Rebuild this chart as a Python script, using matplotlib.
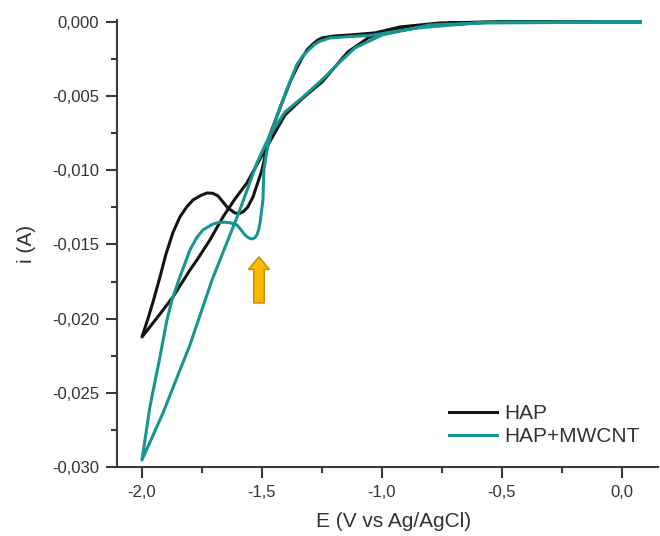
import matplotlib
matplotlib.use("Agg")
import matplotlib.pyplot as plt
from matplotlib.ticker import FuncFormatter, MultipleLocator

plt.rcParams['font.family'] = ['Liberation Sans', 'DejaVu Sans']

# cyclic voltammograms, forward scan (towards -2 V) then reverse scan
hap_fwd_E = [0.075, -0.3, -0.6, -0.76, -0.925, -1.029, -1.133, -1.2, -1.25, -1.27, -1.292, -1.313,
             -1.333, -1.358, -1.383, -1.425, -1.467, -1.5, -1.5375, -1.56, -1.579, -1.595,
             -1.6125, -1.642, -1.683, -1.705, -1.729, -1.755, -1.7875, -1.815, -1.842, -1.871,
             -1.9, -1.925, -1.954, -1.975, -2.0]
hap_fwd_i = [0.0, 0.0, -0.00002, -0.00007, -0.00034, -0.00074, -0.00088, -0.00095, -0.00108,
             -0.00125, -0.00155, -0.0019, -0.00243, -0.0032, -0.00405, -0.0058, -0.00762,
             -0.00998, -0.0118, -0.0125, -0.0128, -0.01292, -0.01288, -0.01254, -0.01173,
             -0.01155, -0.01153, -0.0117, -0.012, -0.0125, -0.01315, -0.0142, -0.01565,
             -0.01719, -0.01888, -0.02, -0.02124]
hap_rev_E = [-2.0, -1.925, -1.871, -1.8, -1.771, -1.717, -1.6625, -1.6125, -1.5625, -1.517,
             -1.475, -1.404, -1.329, -1.25, -1.142, -1.058, -1.008, -0.842, -0.704, -0.508, 0.075]
hap_rev_i = [-0.02124, -0.01969, -0.01854, -0.01672, -0.01605, -0.0147, -0.01315, -0.01193,
             -0.01085, -0.0095, -0.00829, -0.00627, -0.00512, -0.00405, -0.00202, -0.00108,
             -0.00074, -0.00027, -0.00007, 0.0, 0.0]

cnt_fwd_E = [0.075, -0.5, -0.6, -0.7, -0.85, -0.95, -1.04, -1.15, -1.217, -1.258, -1.279, -1.3,
             -1.333, -1.355, -1.375, -1.4, -1.425, -1.458, -1.479, -1.492, -1.496, -1.508,
             -1.514, -1.521, -1.53, -1.542, -1.556, -1.571, -1.588, -1.604, -1.63, -1.654,
             -1.68, -1.704, -1.746, -1.772, -1.8, -1.842, -1.875, -1.896, -1.925, -1.967, -2.0]
cnt_fwd_i = [0.0, 0.0, -0.00005, -0.0002, -0.0004, -0.00065, -0.0009, -0.001, -0.00108,
             -0.0013, -0.0015, -0.0018, -0.00235, -0.0029, -0.0037, -0.0047, -0.0058, -0.0073,
             -0.0086, -0.01, -0.012, -0.01355, -0.0140, -0.01436, -0.01455, -0.01463, -0.01455,
             -0.01436, -0.0140, -0.01369, -0.01355, -0.0135, -0.01352, -0.01362, -0.01402,
             -0.01455, -0.01537, -0.01719, -0.01874, -0.02009, -0.02258, -0.02596, -0.02953]
cnt_rev_E = [-2.0, -1.9125, -1.8, -1.708, -1.675, -1.592, -1.521, -1.496, -1.467, -1.404,
             -1.329, -1.25, -1.175, -1.1125, -1.0, -0.8, -0.5625, 0.075]
cnt_rev_i = [-0.02953, -0.02636, -0.02177, -0.01739, -0.01605, -0.01267, -0.0095, -0.00863,
             -0.00762, -0.00607, -0.00506, -0.0039, -0.0027, -0.00175, -0.00088, -0.0002,
             -0.00007, 0.0]

peak_E = -1.5125
arrow_tip_i = -0.01584
arrow_tail_i = -0.01894

black = '#141414'
teal = '#17968F'
text_col = '#333333'

fig = plt.figure(figsize=(6.6, 5.36), dpi=100)
ax = fig.add_axes([117 / 660, 69 / 536, 541 / 660, 447 / 536])

ax.plot(hap_fwd_E + hap_rev_E, hap_fwd_i + hap_rev_i, color=black, lw=2.2, label='HAP')
ax.plot(cnt_fwd_E + cnt_rev_E, cnt_fwd_i + cnt_rev_i, color=teal, lw=2.2, label='HAP+MWCNT')

ax.annotate('', xy=(peak_E, arrow_tip_i), xytext=(peak_E, arrow_tail_i),
            arrowprops=dict(arrowstyle='simple,head_length=9,head_width=15,tail_width=7.5',
                            mutation_scale=1, fc='#FBBA00', ec='#C8940A', lw=1.2,
                            shrinkA=0, shrinkB=0))

ax.set_xlim(-2.104, 0.15)
ax.set_ylim(-0.030, 0.00013)

ax.xaxis.set_major_locator(MultipleLocator(0.5))
ax.xaxis.set_minor_locator(MultipleLocator(0.25))
ax.yaxis.set_major_locator(MultipleLocator(0.005))
ax.yaxis.set_minor_locator(MultipleLocator(0.0025))
ax.xaxis.set_major_formatter(FuncFormatter(lambda v, p: "0,0" if abs(v) < 1e-9 else f"{v:.1f}".replace('.', ',')))
ax.yaxis.set_major_formatter(FuncFormatter(lambda v, p: "0,000" if abs(v) < 1e-9 else f"{v:.3f}".replace('.', ',')))

for s in ['top', 'right']:
    ax.spines[s].set_visible(False)
for s in ['left', 'bottom']:
    ax.spines[s].set_color('#3a3a3a')
    ax.spines[s].set_linewidth(1.5)

ax.tick_params(which='major', direction='out', length=8, width=1.5, color='#3a3a3a',
               labelsize=12, labelcolor=text_col, pad=5)
ax.tick_params(which='minor', direction='out', length=4.5, width=1.5, color='#3a3a3a')

ax.set_xlabel('E (V vs Ag/AgCl)', fontsize=15, color=text_col)
ax.set_ylabel('i (A)', fontsize=15, color=text_col)
ax.xaxis.set_label_coords(0.512, -0.1)
ax.yaxis.set_label_coords(-0.15, 0.5)

leg = ax.legend(loc='lower right', bbox_to_anchor=(640 / 660, 90 / 536),
                bbox_transform=fig.transFigure, frameon=False, fontsize=15,
                handlelength=2.3, handletextpad=0.35, labelspacing=0.2,
                borderpad=0, borderaxespad=0)
for t in leg.get_texts():
    t.set_color(text_col)

fig.savefig('out.png', dpi=100)
